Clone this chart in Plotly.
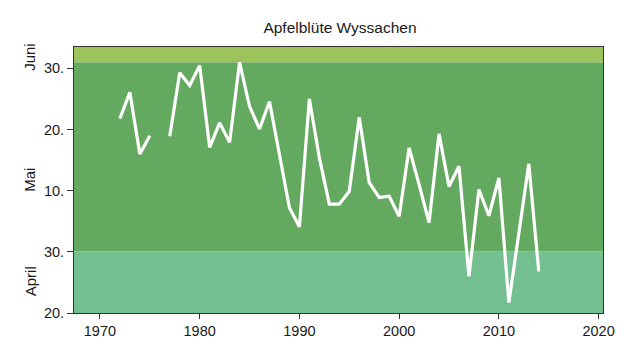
import plotly.graph_objects as go

years = list(range(1972, 2015))
bloom_day = [141.8, 146.1, 136.0, 139.0, None, 138.9, 149.3, 147.2, 150.5, 137.1,
             141.1, 137.9, 151.0, 143.8, 140.1, 144.6, 135.9, 127.2, 124.1, 145.0,
             135.4, 127.8, 127.8, 129.9, 142.0, 131.3, 128.9, 129.1, 125.8, 137.0,
             131.0, 124.8, 139.3, 130.7, 134.0, 116.0, 130.2, 125.9, 132.1, 111.7,
             123.0, 134.4, 116.8]

x_ticks = [1970, 1980, 1990, 2000, 2010, 2020]
y_ticks = [110, 120, 130, 140, 150]
y_tick_text = ["20.", "30.", "10.", "20.", "30."]

month_labels = ["April", "Mai", "Juni"]
month_label_pos = [115.2, 131.8, 151.9]

band_limits = [110, 120.1, 151, 153.5]
band_colors = ["#74bf90", "#64a960", "#9cc45a"]

fig = go.Figure()

for i in range(3):
    fig.add_shape(type="rect", xref="paper", yref="y", x0=0, x1=1,
                  y0=band_limits[i], y1=band_limits[i + 1],
                  fillcolor=band_colors[i], line=dict(width=0), layer="below")

fig.add_trace(go.Scatter(x=years, y=bloom_day, mode="lines",
                         line=dict(color="white", width=3.2),
                         connectgaps=False, hoverinfo="x+y"))

for lab, pos in zip(month_labels, month_label_pos):
    fig.add_annotation(text=lab, xref="paper", yref="y", x=-0.083, y=pos,
                       xanchor="center", yanchor="middle",
                       textangle=-90, showarrow=False,
                       font=dict(family="Liberation Sans, Arial", size=15, color="#1a1a1a"))

W, H = 624, 344  # page body has an 8px margin
fig.update_layout(
    width=W, height=H,
    margin=dict(l=66, r=29, t=39, b=39),
    paper_bgcolor="white", plot_bgcolor="white",
    showlegend=False,
    title=dict(text="Apfelblüte Wyssachen", x=332 / W, xanchor="center",
               y=1 - 20 / H, yanchor="middle",
               font=dict(family="Liberation Sans, Arial", size=15.5, color="#1a1a1a")),
    font=dict(family="Liberation Sans, Arial", size=14.5, color="#1a1a1a"),
)

fig.update_xaxes(range=[1967.4, 2020.44], tickvals=x_ticks, ticks="outside",
                 ticklen=5, tickcolor="#333333", showgrid=False, zeroline=False,
                 showline=True, linecolor="#333333", linewidth=1, mirror=True,
                 tickfont=dict(size=14.5))
fig.update_yaxes(range=[110, 153.5], tickvals=y_ticks, ticktext=y_tick_text,
                 ticks="outside", ticklen=6, tickcolor="#333333", showgrid=False,
                 zeroline=False, showline=True, linecolor="#333333", linewidth=1,
                 mirror=True, tickfont=dict(size=14.5))

fig.write_html("out.html")
